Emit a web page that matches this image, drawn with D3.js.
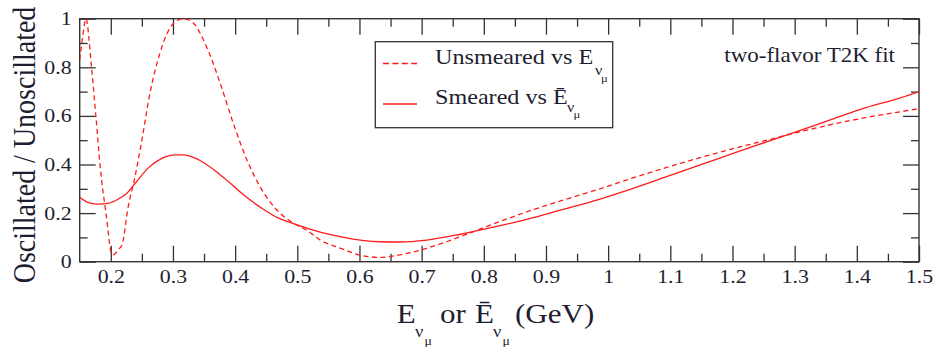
<!DOCTYPE html>
<html>
<head>
<meta charset="utf-8">
<script src="https://cdn.jsdelivr.net/npm/d3@7"></script>
<style>
  body { margin: 0; background: #fff; }
  svg { display: block; }
  text { font-family: "Liberation Serif", "Times New Roman", serif; }
</style>
</head>
<body>
<svg id="chart" width="938" height="347"></svg>
<script>
// Oscillated / unoscillated event ratio versus neutrino energy (GeV)
const unsmearedEnergy = [0.15, 0.155, 0.160, 0.169, 0.176, 0.183, 0.193, 0.201, 0.204, 0.212, 0.218, 0.228,
  0.239, 0.25, 0.263, 0.279, 0.301, 0.317, 0.333, 0.354, 0.376, 0.397, 0.419, 0.44, 0.467, 0.494, 0.515,
  0.537, 0.57, 0.604, 0.633, 0.665, 0.708, 0.762, 0.815, 0.869, 0.923, 0.987, 1.04, 1.094, 1.148, 1.201,
  1.255, 1.309, 1.362, 1.416, 1.47, 1.5];
const unsmearedRatio = [0.83, 0.93, 1.0, 0.80, 0.60, 0.39, 0.185, 0.035, 0.028, 0.05, 0.069, 0.226,
  0.35, 0.50, 0.693, 0.858, 0.981, 1.0, 0.981, 0.885, 0.734, 0.57, 0.419, 0.309, 0.213, 0.158, 0.13,
  0.089, 0.055, 0.025, 0.018, 0.028, 0.055, 0.103, 0.155, 0.205, 0.25, 0.30, 0.345, 0.388, 0.428, 0.465,
  0.50, 0.535, 0.566, 0.594, 0.617, 0.63];

const smearedEnergy = [0.15, 0.162, 0.178, 0.196, 0.21, 0.225, 0.24, 0.26, 0.282, 0.303, 0.317, 0.335,
  0.351, 0.37, 0.389, 0.416, 0.443, 0.469, 0.496, 0.523, 0.55, 0.577, 0.604, 0.633, 0.665, 0.708, 0.762,
  0.815, 0.869, 0.923, 0.987, 1.04, 1.094, 1.148, 1.201, 1.255, 1.309, 1.362, 1.416, 1.47, 1.5];
const smearedRatio = [0.265, 0.245, 0.237, 0.240, 0.255, 0.28, 0.325, 0.385, 0.425, 0.44, 0.44, 0.427,
  0.405, 0.37, 0.33, 0.27, 0.22, 0.18, 0.155, 0.132, 0.113, 0.099, 0.088, 0.082, 0.081, 0.089, 0.113,
  0.142, 0.174, 0.212, 0.258, 0.302, 0.35, 0.398, 0.446, 0.493, 0.54, 0.588, 0.635, 0.674, 0.70];

const xMajorTicks = [0.2, 0.3, 0.4, 0.5, 0.6, 0.7, 0.8, 0.9, 1, 1.1, 1.2, 1.3, 1.4, 1.5];
const xMinorTicks = [0.25, 0.35, 0.45, 0.55, 0.65, 0.75, 0.85, 0.95, 1.05, 1.15, 1.25, 1.35, 1.45];
const yMajorTicks = [0, 0.2, 0.4, 0.6, 0.8, 1];
const yMinorTicks = [0.1, 0.3, 0.5, 0.7, 0.9];

const yTitle = "Oscillated / Unoscillated";
const annotation = "two-flavor T2K fit";

const INK = "#1e1e30";
const FRAME = "#333";
const RED = "#ff1a1a";
const SX = 1.15;            // glyphs are drawn slightly wide
const FONT_TICK = 19;

const svg = d3.select("#chart");
svg.append("rect").attr("width", 938).attr("height", 347).attr("fill", "#fff");

const plot = { left: 79.7, right: 919, top: 18.7, bottom: 261.7 };
const x = d3.scaleLinear().domain([0.15, 1.5]).range([plot.left, plot.right]);
const y = d3.scaleLinear().domain([0, 1]).range([plot.bottom, plot.top]);

const fmt = d3.format("~g");

function styleAxis(g) {
  g.select(".domain").remove();
  g.attr("color", FRAME);
  g.selectAll(".tick line").attr("stroke-width", 1.3);
  g.selectAll(".tick text")
    .attr("fill", INK)
    .attr("font-size", FONT_TICK)
    .attr("transform", `scale(${SX},1)`);
}

// bottom
svg.append("g").attr("transform", `translate(0,${plot.bottom})`)
  .call(d3.axisBottom(x).tickValues(xMajorTicks).tickSizeInner(-16).tickSizeOuter(0).tickPadding(8).tickFormat(fmt))
  .call(styleAxis);
svg.append("g").attr("transform", `translate(0,${plot.bottom})`)
  .call(d3.axisBottom(x).tickValues(xMinorTicks).tickSizeInner(-8).tickSizeOuter(0).tickFormat(""))
  .call(styleAxis);
// top
svg.append("g").attr("transform", `translate(0,${plot.top})`)
  .call(d3.axisTop(x).tickValues(xMajorTicks).tickSizeInner(-16).tickSizeOuter(0).tickFormat(""))
  .call(styleAxis);
svg.append("g").attr("transform", `translate(0,${plot.top})`)
  .call(d3.axisTop(x).tickValues(xMinorTicks).tickSizeInner(-8).tickSizeOuter(0).tickFormat(""))
  .call(styleAxis);
// left
svg.append("g").attr("transform", `translate(${plot.left},0)`)
  .call(d3.axisLeft(y).tickValues(yMajorTicks).tickSizeInner(-16).tickSizeOuter(0).tickPadding(7).tickFormat(fmt))
  .call(styleAxis);
svg.append("g").attr("transform", `translate(${plot.left},0)`)
  .call(d3.axisLeft(y).tickValues(yMinorTicks).tickSizeInner(-8).tickSizeOuter(0).tickFormat(""))
  .call(styleAxis);
// right
svg.append("g").attr("transform", `translate(${plot.right},0)`)
  .call(d3.axisRight(y).tickValues(yMajorTicks).tickSizeInner(-16).tickSizeOuter(0).tickFormat(""))
  .call(styleAxis);
svg.append("g").attr("transform", `translate(${plot.right},0)`)
  .call(d3.axisRight(y).tickValues(yMinorTicks).tickSizeInner(-8).tickSizeOuter(0).tickFormat(""))
  .call(styleAxis);

// frame
svg.append("rect")
  .attr("x", plot.left).attr("y", plot.top)
  .attr("width", plot.right - plot.left).attr("height", plot.bottom - plot.top)
  .attr("fill", "none").attr("stroke", FRAME).attr("stroke-width", 1.4);

// curves
svg.append("clipPath").attr("id", "plot-clip").append("rect")
  .attr("x", plot.left).attr("y", plot.top - 2)
  .attr("width", plot.right - plot.left).attr("height", plot.bottom - plot.top + 2);

const line = d3.line().x(d => x(d[0])).y(d => y(d[1])).curve(d3.curveMonotoneX);
const curves = svg.append("g").attr("clip-path", "url(#plot-clip)");
curves.append("path")
  .datum(d3.zip(unsmearedEnergy, unsmearedRatio))
  .attr("d", line).attr("fill", "none").attr("stroke", RED)
  .attr("stroke-width", 1.3).attr("stroke-dasharray", "5,3.5");
curves.append("path")
  .datum(d3.zip(smearedEnergy, smearedRatio))
  .attr("d", line).attr("fill", "none").attr("stroke", RED)
  .attr("stroke-width", 1.3);

// legend
const legend = svg.append("g");
legend.append("rect").attr("x", 375.3).attr("y", 41.7).attr("width", 237.4).attr("height", 86)
  .attr("fill", "#fff").attr("stroke", FRAME).attr("stroke-width", 1.3);
legend.append("line").attr("x1", 383).attr("x2", 417).attr("y1", 63.5).attr("y2", 63.5)
  .attr("stroke", RED).attr("stroke-width", 1.3).attr("stroke-dasharray", "6,3.4");
legend.append("line").attr("x1", 383).attr("x2", 417).attr("y1", 104).attr("y2", 104)
  .attr("stroke", RED).attr("stroke-width", 1.3);

// one piece of text, drawn slightly wide, with its left end at (px, py)
function piece(px, py, size, str) {
  return svg.append("text")
    .attr("transform", `translate(${px},${py}) scale(${SX},1)`)
    .attr("font-size", size).attr("fill", INK).text(str);
}

piece(435, 64, 21, "Unsmeared vs E");
piece(595, 74.5, 14, "\u03bd");
piece(601, 81.5, 11, "\u03bc");

piece(435, 104, 21, "Smeared vs \u0112");
piece(567, 111.5, 14, "\u03bd");
piece(573.5, 118, 11, "\u03bc");

// annotation
svg.append("text").attr("transform", `translate(895,61.7) scale(${SX},1)`)
  .attr("text-anchor", "end").attr("font-size", 20).attr("fill", INK).text(annotation);

// y title
svg.append("text")
  .attr("transform", `translate(35,145) scale(${SX},1) rotate(-90)`)
  .attr("text-anchor", "middle").attr("font-size", 28).attr("fill", INK).text(yTitle);

// x title
piece(396.7, 323.3, 27, "E");
piece(415, 337, 16, "\u03bd");
piece(424.5, 345, 12, "\u03bc");
piece(440, 323.3, 27, "or");
piece(475, 323.3, 27, "\u0112");
piece(493, 337, 16, "\u03bd");
piece(502.5, 345, 12, "\u03bc");
piece(515, 323.3, 27, "(GeV)");
</script>
</body>
</html>
